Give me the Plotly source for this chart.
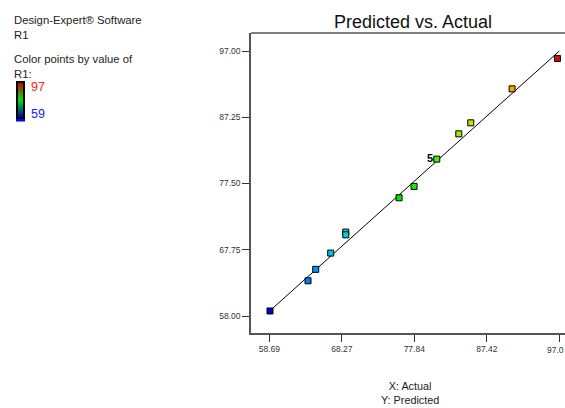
import plotly.graph_objects as go

# Data
actual = [58.78, 63.80, 64.82, 66.80, 68.79, 68.79, 75.83, 77.81, 80.81, 83.72, 85.30, 90.76, 96.75]
predicted = [58.74, 63.19, 64.87, 67.26, 70.35, 69.95, 75.40, 77.07, 81.09, 84.81, 86.43, 91.43, 95.90]
x_ticks = [58.69, 68.27, 77.84, 87.42, 97.00]
x_tick_labels = ["58.69", "68.27", "77.84", "87.42", "97.0"]
y_ticks = [58.00, 67.75, 77.50, 87.25, 97.00]
y_tick_labels = ["58.00", "67.75", "77.50", "87.25", "97.00"]
replicate_label = "5"
replicate_index = 8
r1_min, r1_max = 58.69, 97.0
legend_hi, legend_lo = "97", "59"

W, H = 565, 408
L, R, T, B = 251, 0, 33, 75
pw = W - L - R
ph = H - T - B

def px_x(px):
    return (px - L) / pw

def px_y(py):
    return (H - B - py) / ph

point_scale = [
    [0.00, "rgb(0,0,190)"],
    [0.13, "rgb(0,120,255)"],
    [0.22, "rgb(0,200,240)"],
    [0.28, "rgb(0,215,205)"],
    [0.44, "rgb(0,230,0)"],
    [0.58, "rgb(70,240,0)"],
    [0.66, "rgb(160,235,0)"],
    [0.70, "rgb(190,230,0)"],
    [0.84, "rgb(255,160,0)"],
    [1.00, "rgb(225,0,0)"],
]

fig = go.Figure()

fig.add_trace(go.Scatter(
    x=[r1_min, r1_max], y=[r1_min, r1_max], mode="lines",
    line=dict(color="black", width=1), hoverinfo="skip", showlegend=False,
))

fig.add_trace(go.Scatter(
    x=actual, y=predicted, mode="markers",
    marker=dict(symbol="square", size=6, color=actual, colorscale=point_scale,
                cmin=r1_min, cmax=r1_max, line=dict(color="black", width=1)),
    showlegend=False,
))

font_family = "Liberation Sans, Arial, sans-serif"

def txt(text, px, py, size, color, xanchor="left", yanchor="middle", align="left"):
    return dict(text=text, xref="paper", yref="paper",
                x=px_x(px), y=px_y(py), xanchor=xanchor, yanchor=yanchor, align=align,
                showarrow=False, font=dict(family=font_family, size=size, color=color))

anns = [
    txt("Design-Expert® Software<br>R1", 12, 27.5, 11.3, "#222"),
    txt("Color points by value of<br>R1:", 12, 66.5, 11.3, "#222"),
    txt(legend_hi, 29, 87, 12.5, "#ff2020"),
    txt(legend_lo, 29, 114, 12.5, "#2020ff"),
    txt("X: Actual<br>Y: Predicted", 410, 393, 10.8, "#222", xanchor="center", align="center"),
    txt(x_tick_labels[-1], 566, 350, 8.5, "#333", xanchor="right"),
    dict(text="<b>" + replicate_label + "</b>", x=actual[replicate_index], y=predicted[replicate_index],
         xref="x", yref="y", xanchor="right", yanchor="middle", xshift=-2, yshift=1,
         showarrow=False, font=dict(family=font_family, size=11, color="black")),
]

# legend colour bar (gradient red -> green -> blue) drawn as thin strips
shapes = [dict(type="line", xref="paper", yref="paper", x0=0, x1=1, y0=1, y1=1,
               line=dict(color="#555", width=1.5))]
bar_top, bar_bot, bar_l, bar_r = 82, 118, 17, 24
n = 36
for i in range(n):
    t = i / (n - 1)  # 0 top .. 1 bottom
    if t < 0.5:
        u = t / 0.5
        c = (int(210 * (1 - u)), int(230 * u), 0)
    else:
        u = (t - 0.5) / 0.5
        c = (0, int(230 * (1 - u)), int(180 * u))
    y0 = bar_top + (bar_bot - bar_top) * i / n
    y1 = bar_top + (bar_bot - bar_top) * (i + 1) / n
    shapes.append(dict(type="rect", xref="paper", yref="paper",
                       x0=px_x(bar_l), x1=px_x(bar_r), y0=px_y(y1), y1=px_y(y0),
                       fillcolor="rgb(%d,%d,%d)" % c, line=dict(width=0)))
shapes.append(dict(type="rect", xref="paper", yref="paper",
                   x0=px_x(bar_l), x1=px_x(bar_r), y0=px_y(bar_bot), y1=px_y(bar_top),
                   fillcolor="rgba(0,0,0,0)", line=dict(color="black", width=2)))
shapes.append(dict(type="rect", xref="paper", yref="paper",
                   x0=px_x(bar_l - 1), x1=px_x(bar_r + 1), y0=px_y(121.5), y1=px_y(bar_bot + 1),
                   fillcolor="rgb(0,0,255)", line=dict(width=0)))

fig.update_layout(
    width=W, height=H,
    margin=dict(l=L, r=R, t=T, b=B, autoexpand=False),
    paper_bgcolor="white", plot_bgcolor="white",
    font=dict(family=font_family, color="#333"),
    title=dict(text="Predicted vs. Actual", x=413 / W, xanchor="center",
               y=1 - 22 / H, yanchor="middle",
               font=dict(family=font_family, size=18, color="#111")),
    annotations=anns,
    shapes=shapes,
    showlegend=False,
)

fig.update_xaxes(range=[56.27, 97.75], tickvals=x_ticks,
                 ticktext=x_tick_labels[:-1] + [""],
                 showgrid=False, zeroline=False, showline=True, linecolor="#555", linewidth=1.5,
                 ticks="outside", ticklen=7, tickcolor="#333", tickwidth=1,
                 tickfont=dict(family=font_family, size=8.5, color="#333"), automargin=False)
fig.update_yaxes(range=[55.50, 99.65], tickvals=y_ticks, ticktext=y_tick_labels,
                 showgrid=False, zeroline=False, showline=True, linecolor="#555", linewidth=1.5,
                 ticks="outside", ticklen=7, tickcolor="#333", tickwidth=1,
                 tickfont=dict(family=font_family, size=8.5, color="#333"), automargin=False)

fig.write_html("out.html", config={"displayModeBar": False},
               post_script="document.body.style.margin='0px';document.body.style.overflow='hidden';")
